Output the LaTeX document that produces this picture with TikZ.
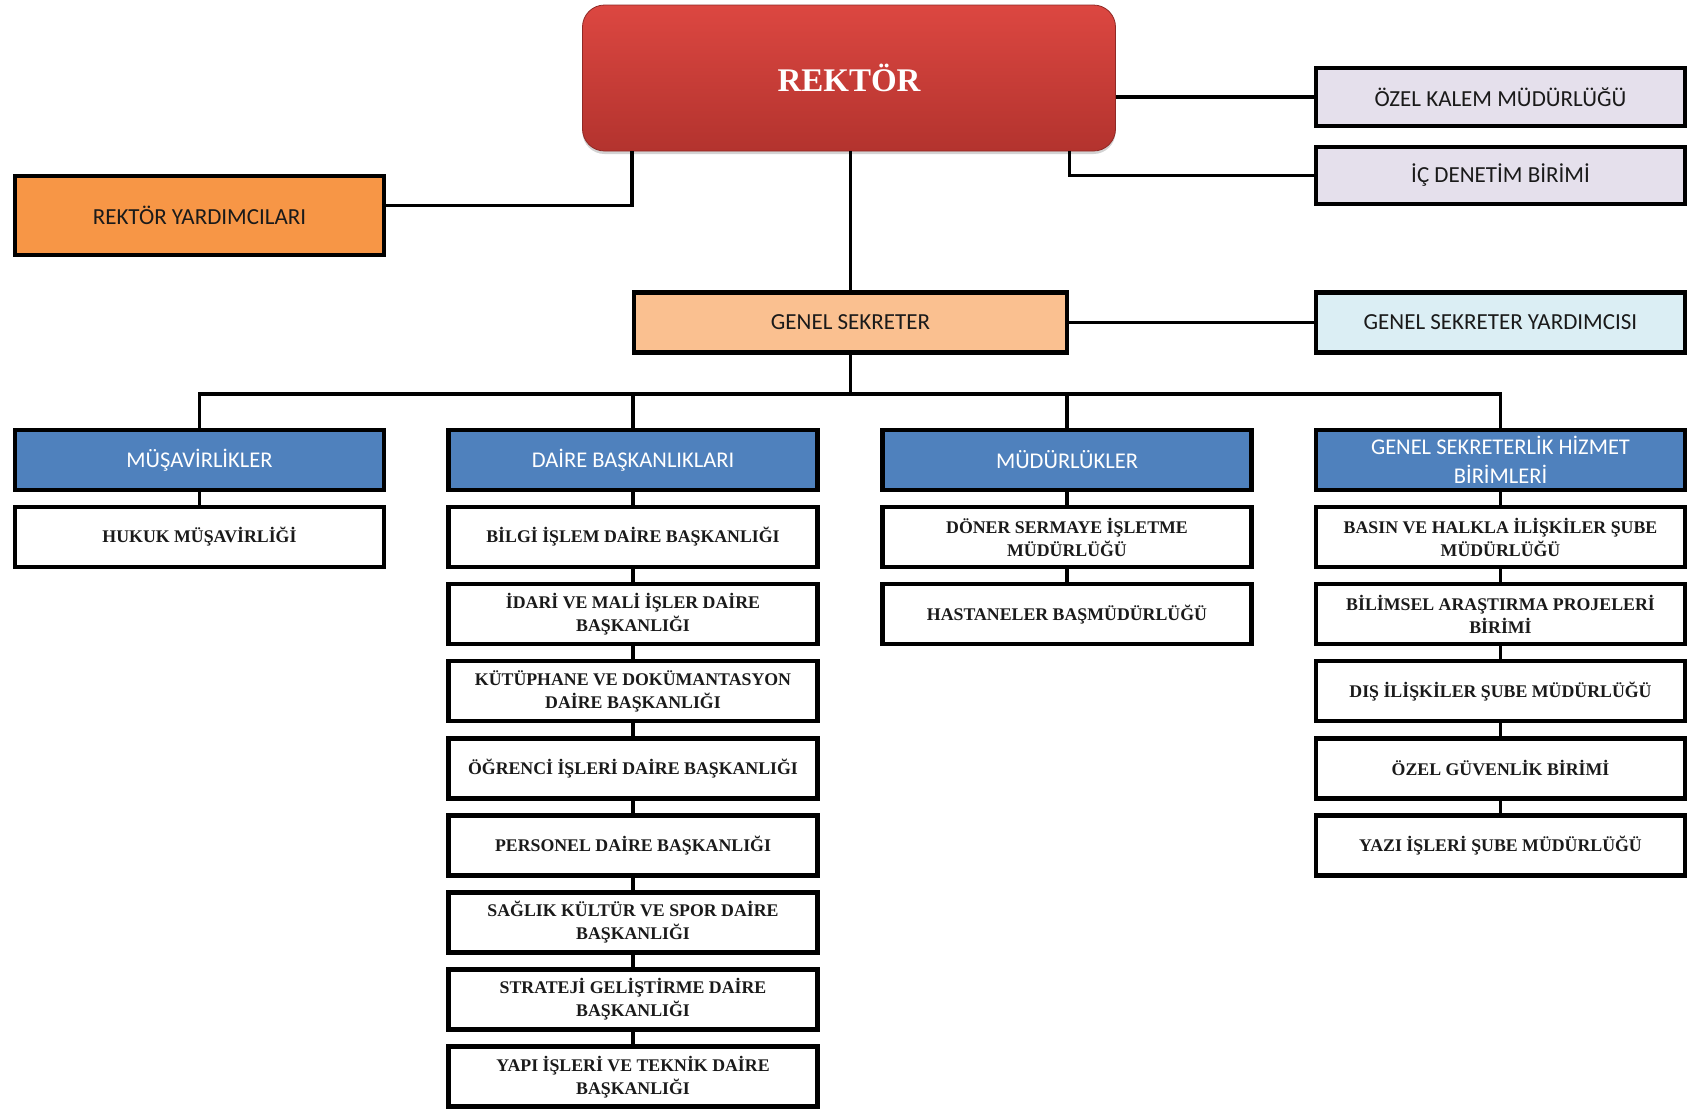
\documentclass[tikz,border=0pt]{standalone}
\usepackage{fontspec}
\usetikzlibrary{shadows}
\newfontfamily\calfont{Carlito}
\newfontfamily\serfont{Liberation Serif}
\definecolor{rkTop}{HTML}{DC4741}
\definecolor{rkBot}{HTML}{B3332E}
\definecolor{lav}{HTML}{E5E0EC}
\definecolor{org}{HTML}{F79646}
\definecolor{lorg}{HTML}{FAC090}
\definecolor{lblue}{HTML}{DBEEF4}
\definecolor{hblue}{HTML}{4F81BD}
\definecolor{txt}{HTML}{1A1A1A}
\tikzset{
  box/.style={draw=black, line width=4.5pt, minimum width=369pt, minimum height=60pt, inner sep=2pt, align=center, text=txt},
  sansbox/.style={box, font=\calfont\fontsize{23}{27}\selectfont},
  headbox/.style={box, fill=hblue, text=white, font=\calfont\fontsize{22.5}{29}\selectfont},
  childbox/.style={box, fill=white, font=\serfont\bfseries\fontsize{17.8}{23}\selectfont},
  conn/.style={line width=3.5pt, draw=black},
}
\begin{document}
\begin{tikzpicture}[x=1pt,y=-1pt]
\useasboundingbox (0,0) rectangle (1693,1109);
% top
\node[rounded corners=22pt, top color=rkTop, bottom color=rkBot, draw=rkBot!80!black, line width=0.8pt,
  minimum width=533pt, minimum height=146pt, drop shadow={shadow xshift=0pt, shadow yshift=-3pt, opacity=0.35},
  text=white, font=\serfont\bfseries\fontsize{33}{36}\selectfont] (rektor) at (849,78) {REKTÖR};
\node[sansbox, fill=lav, minimum height=58pt] (ozel) at (1500.5,97) {ÖZEL KALEM MÜDÜRLÜĞÜ};
\node[sansbox, fill=lav, minimum height=57pt] (ic) at (1500.5,175.5) {İÇ DENETİM BİRİMİ};
\node[sansbox, fill=org, minimum height=79pt] (ry) at (199.5,215.5) {REKTÖR YARDIMCILARI};
\node[sansbox, fill=lorg, minimum width=433pt] (gs) at (850.5,322.5) {GENEL SEKRETER};
\node[sansbox, fill=lblue] (gsy) at (1500.5,322.5) {GENEL SEKRETER YARDIMCISI};
% headers
\node[headbox] (h1) at (199.5,460) {MÜŞAVİRLİKLER};
\node[headbox] (h2) at (633,460) {DAİRE BAŞKANLIKLARI};
\node[headbox] (h3) at (1067,460) {MÜDÜRLÜKLER};
\node[headbox] (h4) at (1500.5,460) {GENEL SEKRETERLİK HİZMET\\BİRİMLERİ};
% column 1
\node[childbox] (m1) at (199.5,537) {HUKUK MÜŞAVİRLİĞİ};
% column 2
\node[childbox] (d1) at (633,537) {BİLGİ İŞLEM DAİRE BAŞKANLIĞI};
\node[childbox] (d2) at (633,614.1) {İDARİ VE MALİ İŞLER DAİRE\\BAŞKANLIĞI};
\node[childbox] (d3) at (633,691.2) {KÜTÜPHANE VE DOKÜMANTASYON\\DAİRE BAŞKANLIĞI};
\node[childbox] (d4) at (633,768.3) {ÖĞRENCİ İŞLERİ DAİRE BAŞKANLIĞI};
\node[childbox] (d5) at (633,845.4) {PERSONEL DAİRE BAŞKANLIĞI};
\node[childbox] (d6) at (633,922.5) {SAĞLIK KÜLTÜR VE SPOR DAİRE\\BAŞKANLIĞI};
\node[childbox] (d7) at (633,999.6) {STRATEJİ GELİŞTİRME DAİRE\\BAŞKANLIĞI};
\node[childbox] (d8) at (633,1076.7) {YAPI İŞLERİ VE TEKNİK DAİRE\\BAŞKANLIĞI};
% column 3
\node[childbox] (u1) at (1067,537) {DÖNER SERMAYE İŞLETME\\MÜDÜRLÜĞÜ};
\node[childbox] (u2) at (1067,614.1) {HASTANELER BAŞMÜDÜRLÜĞÜ};
% column 4
\node[childbox] (g1) at (1500.5,537) {BASIN VE HALKLA İLİŞKİLER ŞUBE\\MÜDÜRLÜĞÜ};
\node[childbox] (g2) at (1500.5,614.1) {BİLİMSEL ARAŞTIRMA PROJELERİ\\BİRİMİ};
\node[childbox] (g3) at (1500.5,691.2) {DIŞ İLİŞKİLER ŞUBE MÜDÜRLÜĞÜ};
\node[childbox] (g4) at (1500.5,768.3) {ÖZEL GÜVENLİK BİRİMİ};
\node[childbox] (g5) at (1500.5,845.4) {YAZI İŞLERİ ŞUBE MÜDÜRLÜĞÜ};
% connectors
\coordinate (bus) at (850.5,394);
\draw[conn] (rektor.south -| gs.north) -- (gs.north);
\draw[conn] ([yshift=10pt]ry.east) -| (rektor.south -| gs.west);
\draw[conn] (ic.west) -| (rektor.south -| gs.east);
\draw[conn] (rektor.east |- ozel.west) -- (ozel.west);
\draw[conn] (gs.east) -- (gsy.west);
\draw[conn] (gs.south) -- (bus);
\draw[conn] (h1.north) |- (bus) -| (h4.north);
\draw[conn] (h2.north) -- (h2.north |- bus);
\draw[conn] (h3.north) -- (h3.north |- bus);
\draw[conn] (h1.south) -- (m1.north);
\draw[conn] (h2.south) -- (d1.north);
\draw[conn] (d1.south) -- (d2.north);
\draw[conn] (d2.south) -- (d3.north);
\draw[conn] (d3.south) -- (d4.north);
\draw[conn] (d4.south) -- (d5.north);
\draw[conn] (d5.south) -- (d6.north);
\draw[conn] (d6.south) -- (d7.north);
\draw[conn] (d7.south) -- (d8.north);
\draw[conn] (h3.south) -- (u1.north);
\draw[conn] (u1.south) -- (u2.north);
\draw[conn] (h4.south) -- (g1.north);
\draw[conn] (g1.south) -- (g2.north);
\draw[conn] (g2.south) -- (g3.north);
\draw[conn] (g3.south) -- (g4.north);
\draw[conn] (g4.south) -- (g5.north);
\end{tikzpicture}
\end{document}
